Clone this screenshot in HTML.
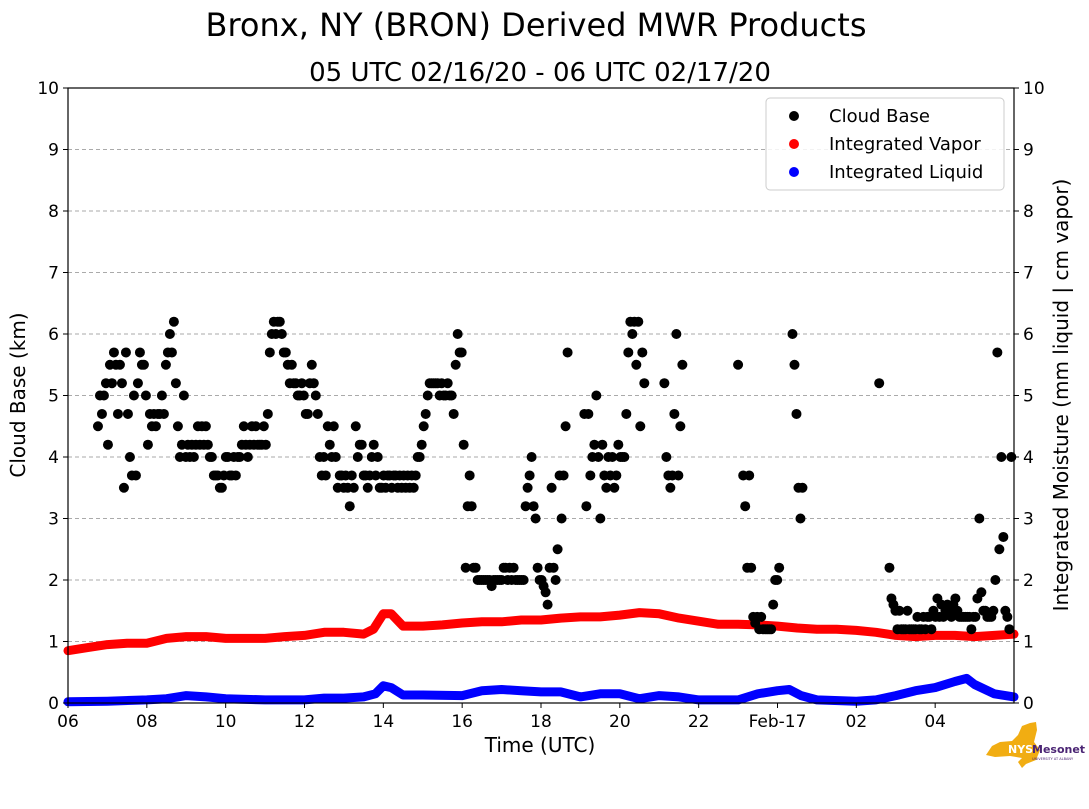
<!DOCTYPE html>
<html><head><meta charset="utf-8"><style>
body{margin:0;background:#fff;}
svg text{font-family:"DejaVu Sans","Liberation Sans",sans-serif;}
</style></head><body>
<svg id="chart" width="1089" height="804" xmlns="http://www.w3.org/2000/svg">
<text x="536" y="36" font-size="32" text-anchor="middle">Bronx, NY (BRON) Derived MWR Products</text>
<text x="540" y="81" font-size="26" text-anchor="middle">05 UTC 02/16/20 - 06 UTC 02/17/20</text>
<g id="grid"></g>
<g id="series"></g>
<rect x="68" y="88" width="946" height="615" fill="none" stroke="#000" stroke-width="1.2"/>
<g id="axes"></g>
<text x="540" y="752" font-size="20" text-anchor="middle">Time (UTC)</text>
<text transform="translate(25,395) rotate(-90)" font-size="20" text-anchor="middle">Cloud Base (km)</text>
<text transform="translate(1068,395) rotate(-90)" font-size="20" text-anchor="middle">Integrated Moisture (mm liquid | cm vapor)</text>
<g>
<rect x="766" y="98" width="238" height="92" rx="4" fill="#fff" fill-opacity="0.85" stroke="#ccc"/>
<g><circle cx="794" cy="116" r="5"/><text x="829" y="122" font-size="18">Cloud Base</text></g>
<g><circle cx="794" cy="144" r="5" fill="red"/><text x="829" y="150" font-size="18">Integrated Vapor</text></g>
<g><circle cx="794" cy="172" r="5" fill="blue"/><text x="829" y="178" font-size="18">Integrated Liquid</text></g>
</g>
<g>
<polygon points="1022,726 1030,723 1036,722 1037,730 1034,742 1040,750 1036,760 1026,764 1022,768 1018,762 1022,758 1010,756 995,757 986,755 992,746 1000,742 1012,741 1018,735" fill="#f1ad12"/>
<text x="1008" y="753" font-size="11" font-weight="bold" fill="#fff">NYS</text>
<text x="1032" y="753" font-size="11" font-weight="bold" fill="#4b2574">Mesonet</text>
<text x="1032" y="760" font-size="3.5" fill="#4b2574">UNIVERSITY AT ALBANY</text>
</g>
</svg>
<script>
const xTickHours=[6,8,10,12,14,16,18,20,22,24,26,28];
const xTickLabels=["06","08","10","12","14","16","18","20","22","Feb-17","02","04"];
const yTicks=[0,1,2,3,4,5,6,7,8,9,10];
const cloudStep=0.0507;
const cloudSegStart=[6.76,19.10,21.13,23.0,23.13,24.38,26.58,26.84];
const cloudSeg1=[4.5,5,4.7,5,5.2,4.2,5.5,5.2,5.7,5.5,4.7,5.5,5.2,3.5,5.7,4.7,4,3.7,5,3.7,5.2,5.7,5.5,5.5,5,4.2,4.7,4.5,4.7,4.5,4.7,4.7,5,4.7,5.5,5.7,6,5.7,6.2,5.2,4.5,4,4.2,5,4,4.2,4,4.2,4,4.2,4.5,4.2,4.5,4.2,4.5,4.2,4,4,3.7,3.7,3.7,3.5,3.5,3.7,4,4,3.7,3.7,4,3.7,4,4,4.2,4.5,4.2,4,4.2,4.5,4.2,4.5,4.2,4.2,4.2,4.5,4.2,4.7,5.7,6,6.2,6,6.2,6.2,6,5.7,5.7,5.5,5.2,5.5,5.2,5.2,5,5,5.2,5,4.7,4.7,5.2,5.5,5.2,5,4.7,4,3.7,4,3.7,4.5,4.2,4,4.5,4,3.5,3.7,3.7,3.5,3.7,3.5,3.2,3.7,3.5,4.5,4,4.2,4.2,3.7,3.7,3.5,3.7,4,4.2,3.7,4,3.5,3.5,3.7,3.5,3.7,3.7,3.5,3.7,3.7,3.5,3.7,3.5,3.7,3.5,3.7,3.5,3.7,3.5,3.7,4,4,4.2,4.5,4.7,5,5.2,5.2,5.2,5.2,5.2,5,5.2,5,5,5.2,5,5,4.7,5.5,6,5.7,5.7,4.2,2.2,3.2,3.7,3.2,2.2,2.2,2,2,2,2,2,2,2,1.9,2,2,2,2,2,2.2,2.2,2,2.2,2,2.2,2,2,2,2,2,3.2,3.5,3.7,4,3.2,3,2.2,2,2,1.9,1.8,1.6,2.2,3.5,2.2,2,2.5,3.7,3,3.7,4.5,5.7];
const cloudSeg2=[4.7,3.2,4.7,3.7,4,4.2,5,4,3,4.2,3.7,3.5,4,3.7,4,3.5,3.7,4.2,4,4,4,4.7,5.7,6.2,6,6.2,5.5,6.2,4.5,5.7,5.2];
const cloudSeg3=[5.2,4,3.7,3.5,3.7,4.7,6,3.7,4.5,5.5];
const cloudSeg4=[5.5];
const cloudSeg5=[3.7,3.2,2.2,3.7,2.2,1.4,1.3,1.4,1.2,1.4,1.2,1.2,1.2,1.2,1.2,1.6,2,2,2.2];
const cloudSeg6=[6,5.5,4.7,3.5,3,3.5];
const cloudSeg7=[5.2];
const cloudSeg8=[2.2,1.7,1.6,1.5,1.2,1.5,1.2,1.2,1.2,1.5,1.2,1.2,1.2,1.2,1.4,1.2,1.2,1.4,1.2,1.4,1.4,1.2,1.5,1.4,1.7,1.4,1.6,1.4,1.5,1.6,1.5,1.4,1.6,1.7,1.5,1.4,1.4,1.4,1.4,1.4,1.4,1.2,1.4,1.4,1.7,3,1.8,1.5,1.5,1.4,1.4,1.4,1.5,2,5.7,2.5,4,2.7,1.5,1.4,1.2,4];
const vapT=[6,6.5,7,7.5,8,8.5,9,9.5,10,10.5,11,11.5,12,12.5,13,13.5,13.75,14,14.2,14.5,15,15.5,16,16.5,17,17.5,18,18.5,19,19.5,20,20.5,21,21.5,22,22.5,23,23.5,24,24.5,25,25.5,26,26.5,27,27.5,28,28.5,29,29.5,30];
const vapV=[0.85,0.9,0.95,0.97,0.97,1.05,1.08,1.08,1.05,1.05,1.05,1.08,1.1,1.15,1.15,1.12,1.2,1.45,1.45,1.25,1.25,1.27,1.3,1.32,1.32,1.35,1.35,1.38,1.4,1.4,1.43,1.47,1.45,1.38,1.33,1.28,1.28,1.27,1.25,1.22,1.2,1.2,1.18,1.15,1.1,1.08,1.1,1.1,1.08,1.1,1.12];
const liqT=[6,7,8,8.5,9,9.5,10,11,12,12.5,13,13.5,13.8,14,14.2,14.5,15,16,16.5,17,17.5,18,18.5,19,19.5,20,20.5,21,21.5,22,23,23.5,24,24.3,24.6,25,26,26.5,27,27.5,28,28.5,28.8,29,29.5,30];
const liqV=[0.02,0.03,0.05,0.07,0.12,0.1,0.07,0.05,0.05,0.08,0.08,0.1,0.15,0.28,0.25,0.13,0.13,0.12,0.2,0.22,0.2,0.18,0.18,0.1,0.15,0.15,0.07,0.12,0.1,0.05,0.05,0.15,0.2,0.22,0.12,0.05,0.03,0.05,0.12,0.2,0.25,0.35,0.4,0.3,0.15,0.1];

const NS='http://www.w3.org/2000/svg';
const X0=68,X1=1014,Y0=703,Y1=88,TMIN=6,TMAX=30.0;
function xs(t){return X0+(t-TMIN)/(TMAX-TMIN)*(X1-X0);}
function ys(v){return Y0-v/10*(Y0-Y1);}
function mk(tag,attrs,parent){const e=document.createElementNS(NS,tag);for(const k in attrs)e.setAttribute(k,attrs[k]);parent.appendChild(e);return e;}
const grid=document.getElementById('grid'),axes=document.getElementById('axes'),series=document.getElementById('series');
yTicks.forEach(v=>{
  if(v>0&&v<10){const g=mk('line',{x1:X0,x2:X1,y1:ys(v),y2:ys(v),stroke:'#aaa','stroke-dasharray':'4,3','stroke-width':1},grid);
  
  }
  const t1=mk('line',{x1:X0-5,x2:X0,y1:ys(v),y2:ys(v),stroke:'#000'},axes);
  
  
  const t2=mk('line',{x1:X1,x2:X1+5,y1:ys(v),y2:ys(v),stroke:'#000'},axes);
  
  
  const l1=mk('text',{x:X0-9,y:ys(v)+6,'font-size':17,'text-anchor':'end'},axes);l1.textContent=v;
  
  
  const l2=mk('text',{x:X1+9,y:ys(v)+6,'font-size':17},axes);l2.textContent=v;
  
  
});
xTickHours.forEach((h,i)=>{
  const t=mk('line',{x1:xs(h),x2:xs(h),y1:Y0,y2:Y0+5,stroke:'#000'},axes);
  
  
  const l=mk('text',{x:xs(h),y:Y0+24,'font-size':17,'text-anchor':'middle'},axes);l.textContent=xTickLabels[i];
  
  
});
function line(T,V,color,name){
  const pts=T.map((t,i)=>xs(t).toFixed(1)+','+ys(V[i]).toFixed(1)).join(' ');
  const p=mk('polyline',{points:pts,fill:'none',stroke:color,'stroke-width':9,'stroke-linejoin':'round','stroke-linecap':'round'},series);
  
  
}
line(vapT,vapV,'red','integrated-vapor-line');
line(liqT,liqV,'blue','integrated-liquid-line');
const segs=[cloudSeg1,cloudSeg2,cloudSeg3,cloudSeg4,cloudSeg5,cloudSeg6,cloudSeg7,cloudSeg8];
segs.forEach((vals,si)=>{
  vals.forEach((v,i)=>{
    const t=cloudSegStart[si]+i*cloudStep;
    const c=mk('circle',{cx:xs(t),cy:ys(v),r:5,fill:'#000'},series);
    
    
  });
});
</script>
</body></html>
